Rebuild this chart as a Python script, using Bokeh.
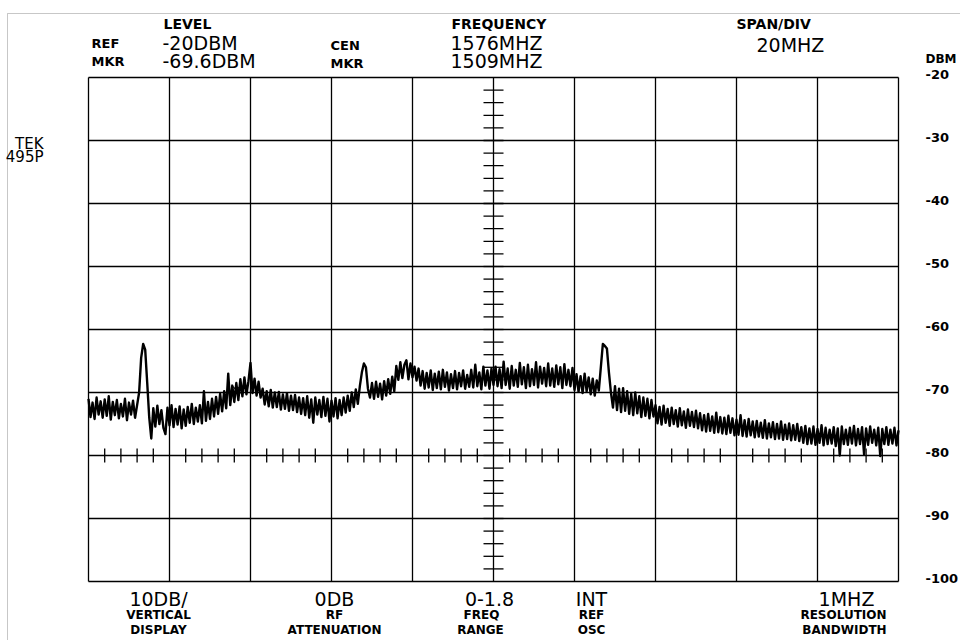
import numpy as np
from bokeh.plotting import figure
from bokeh.models import Label, Range1d, BoxAnnotation
from bokeh.core.properties import value
from bokeh.embed import file_html
from bokeh.resources import INLINE

# ---------------- data ----------------
start_mhz = 1476
stop_mhz = 1676
center_mhz = 1576
ref_dbm = -20
bottom_dbm = -100
major_freqs = [1476, 1496, 1516, 1536, 1556, 1576, 1596, 1616, 1636, 1656, 1676]
dbm_ticks = [-20, -30, -40, -50, -60, -70, -80, -90, -100]
dbm_tick_labels = ["-20", "-30", "-40", "-50", "-60", "-70", "-80", "-90", "-100"]
minor_freq_ticks = [f for f in range(1480, 1676, 4) if (f - 1476) % 20 != 0]
minor_db_ticks = [d for d in range(-98, -20, 2)]
minor_freq_line_db = -80

seg = []
seg += [-71.0, -73.9, -71.6, -74.2, -70.8, -73.5, -71.4, -74.0, -71.1, -73.7, -70.6, -74.3, -71.5,
        -73.6, -71.2, -74.1, -71.8, -73.8, -71.0, -74.4, -71.6, -73.5, -71.3, -74.0, -72.0]
seg += [-70.0, -64.5, -62.3, -63.2, -68.5]
seg += [-74.0, -77.3, -72.5, -75.4, -72.1, -75.0, -72.8, -75.6, -76.6, -72.4, -75.2, -72.0, -75.5,
        -72.6, -75.1, -72.2, -75.7, -72.7, -75.3, -72.3, -74.8, -71.8, -75.0, -72.4, -74.6]
seg += [-72.0, -74.9, -69.8, -74.5, -71.5, -74.2, -71.0, -73.8, -70.7, -73.4, -70.2, -73.0, -69.8,
        -72.5, -67.0, -72.0, -68.9, -71.5, -68.5, -71.2]
seg += [-67.9, -70.6, -67.6, -70.3, -68.2, -65.3, -70.1, -67.8, -70.5, -68.3, -70.8]
seg += [-69.4, -71.9, -69.8, -72.2, -69.6, -72.4, -70.0, -72.3, -69.9, -72.7, -70.3, -72.6, -70.1,
        -72.9, -70.5, -72.8, -70.4, -73.1, -70.8]
seg += [-73.4, -70.9, -73.6, -70.6, -74.0, -71.1, -74.8, -70.8, -73.5, -71.2, -73.9, -70.7, -73.7,
        -71.0, -74.6, -71.3, -73.8, -70.9, -74.1, -71.2, -73.6, -70.8, -73.2]
seg += [-70.5, -72.9, -70.0, -72.3, -69.5, -71.8, -69.0]
seg += [-66.8, -65.4, -66.0, -69.4]
seg += [-70.8, -68.5, -71.0, -68.3, -70.7, -68.6, -71.1, -68.2, -70.5, -67.9, -70.2, -67.5, -69.8]
seg += [-65.8, -68.0, -65.2, -67.7, -65.6, -64.9, -67.9, -65.4, -67.6, -65.9, -68.1, -66.2]
seg += [-68.9, -66.6, -69.4, -66.9, -69.2, -66.5, -69.6, -67.0, -69.3, -66.7, -69.5, -66.4, -69.1,
        -66.8, -69.7, -67.1, -69.3, -66.6, -69.5, -66.9, -69.0, -66.5, -69.4, -67.2, -69.1]
seg += [-66.4, -69.2, -65.6, -69.0, -66.8, -69.5, -65.9, -68.9, -66.5, -69.4, -66.2, -68.8]
seg += [-65.9, -69.0, -66.3, -69.3, -65.1, -68.8, -66.2, -69.4, -65.8, -68.9, -66.4, -69.1, -65.3,
        -68.7, -66.0, -69.3, -65.6, -69.0, -66.3, -68.8, -65.2, -69.2, -65.9, -68.6, -66.1, -69.0,
        -65.4, -68.9, -66.2, -69.1, -65.7, -68.7, -66.0, -69.3, -65.5, -68.8, -66.4, -69.0, -66.1]
seg += [-69.6, -67.1, -69.9, -67.4, -70.1, -67.0, -69.8, -67.6, -70.3, -67.8, -70.5, -68.1, -69.7]
seg += [-66.0, -62.3, -62.6, -63.0, -66.8, -70.0]
seg += [-72.4, -69.0, -72.8, -69.4, -73.1, -69.3, -72.9, -69.8, -73.4, -70.2, -73.6, -70.0, -73.3,
        -70.6, -73.9, -70.8, -73.7, -71.0, -74.1, -71.2, -73.8]
seg += [-72.0, -74.9, -72.3, -75.1, -72.1, -74.8, -72.6, -75.3, -72.4, -75.0, -72.8, -75.4, -72.5,
        -75.2, -73.0, -75.6, -72.7, -75.3, -73.1, -75.5, -72.9, -75.7]
seg += [-73.3, -76.0, -73.6, -76.2, -73.4, -76.1, -73.8, -76.4, -73.2, -76.3, -73.9, -76.5, -74.0,
        -76.6, -73.7, -76.4, -74.1, -76.8, -74.3, -76.7, -73.6, -76.9, -74.4, -77.0, -74.2, -76.8,
        -74.6, -77.1, -74.5, -77.0, -74.8, -77.2, -74.4, -77.3, -74.9, -77.1, -74.7, -77.4, -75.0,
        -77.3, -74.6, -77.5, -75.1, -77.4, -74.9, -77.6, -75.2, -77.5, -75.0, -77.7]
seg += [-75.5, -78.0, -75.3, -78.2, -75.7, -78.1, -75.4, -78.3, -75.8, -78.0, -75.2, -78.4, -75.6,
        -78.2, -75.9, -78.1, -75.5, -78.5, -75.7, -80.0, -75.4, -78.2, -75.9, -78.3, -75.6, -78.1,
        -75.3, -78.4, -75.8, -78.2, -75.5, -79.8, -75.7, -78.3, -75.4, -78.0, -75.9, -78.4, -75.6,
        -80.1, -75.8, -78.2, -75.5, -78.3, -75.9, -78.1, -75.6, -78.4, -76.0]
trace_dbm = seg
trace_mhz = np.linspace(start_mhz, stop_mhz, len(trace_dbm))

marker_mhz = 1512.5
marker_dbm = -69.6

# ---------------- layout ----------------
FONT = "DejaVu Sans"
W, H = 960, 640
GL, GR, GT, GB = 88, 898, 77, 581   # graticule edges in page pixels


def X(px):  # page pixel -> data x
    return start_mhz + (px - GL) / (GR - GL) * (stop_mhz - start_mhz)


def Y(py):  # page pixel -> data y
    return ref_dbm - (py - GT) / (GB - GT) * (ref_dbm - bottom_dbm)


p = figure(width=W, height=H, x_range=Range1d(X(0), X(W)), y_range=Range1d(Y(H), Y(0)),
           output_backend="svg", toolbar_location=None, x_axis_location=None,
           y_axis_location=None, min_border=0)
p.background_fill_color = "white"
p.border_fill_color = "white"
p.outline_line_color = None
p.xgrid.visible = False
p.ygrid.visible = False

# graticule
p.segment(x0=major_freqs, y0=[bottom_dbm] * len(major_freqs), x1=major_freqs,
          y1=[ref_dbm] * len(major_freqs), line_color="black", line_width=1.3)
p.segment(x0=[start_mhz] * len(dbm_ticks), y0=dbm_ticks, x1=[stop_mhz] * len(dbm_ticks),
          y1=dbm_ticks, line_color="black", line_width=1.3)
p.scatter(x=[center_mhz] * len(minor_db_ticks), y=minor_db_ticks, marker="dash", size=20,
          line_color="black", line_width=1.3)
p.scatter(x=minor_freq_ticks, y=[minor_freq_line_db] * len(minor_freq_ticks), marker="dash",
          angle=np.pi / 2, size=14, line_color="black", line_width=1.3)

# trace
p.line(trace_mhz, trace_dbm, line_color="black", line_width=2.4, line_join="round")
p.scatter([marker_mhz], [marker_dbm], marker="x", size=11, line_color="black", line_width=1.2)

# outer paper frame
p.add_layout(BoxAnnotation(left=X(7), right=X(W + 50), top=Y(13), bottom=Y(H + 50),
                           fill_alpha=0, line_color="#444444", line_width=1))

# right-hand dB labels (slightly above their lines)
p.text(x=[X(925)] * len(dbm_ticks), y=[d + 0.45 for d in dbm_ticks], text=dbm_tick_labels,
       text_font=value(FONT), text_font_size="13px", text_font_style="bold",
       text_align="left", text_baseline="middle", text_color="black")


def lbl(text, px, py, size, bold=False, align="left"):
    p.add_layout(Label(x=X(px), y=Y(py), text=text, text_font=FONT, text_font_size=f"{size}px",
                       text_font_style="bold" if bold else "normal", text_align=align,
                       text_baseline="middle", text_color="black"))


# header
lbl("LEVEL", 163, 23, 14, True)
lbl("FREQUENCY", 451, 23, 14, True)
lbl("SPAN/DIV", 736, 23, 14, True)
lbl("REF", 91, 43, 13, True)
lbl("-20DBM", 162, 42, 19)
lbl("CEN", 330, 45, 13, True)
lbl("1576MHZ", 450, 42, 19)
lbl("20MHZ", 756, 44, 19)
lbl("MKR", 91, 61, 13, True)
lbl("-69.6DBM", 162, 60, 19)
lbl("MKR", 330, 63, 13, True)
lbl("1509MHZ", 450, 60, 19)
lbl("DBM", 925, 58, 12, True)
lbl("TEK", 43, 143, 15, align="right")
lbl("495P", 43, 156, 15, align="right")

# footer
lbl("10DB/", 158, 598, 19, align="center")
lbl("VERTICAL", 158, 614, 12, True, "center")
lbl("DISPLAY", 158, 629, 12, True, "center")
lbl("0DB", 334, 598, 19, align="center")
lbl("RF", 334, 614, 12, True, "center")
lbl("ATTENUATION", 334, 629, 12, True, "center")
lbl("0-1.8", 489, 598, 19, align="center")
lbl("FREQ", 481, 614, 12, True, "center")
lbl("RANGE", 480, 629, 12, True, "center")
lbl("INT", 591, 598, 19, align="center")
lbl("REF", 591, 614, 12, True, "center")
lbl("OSC", 591, 629, 12, True, "center")
lbl("1MHZ", 846, 598, 19, align="center")
lbl("RESOLUTION", 843, 614, 12, True, "center")
lbl("BANDWIDTH", 844, 629, 12, True, "center")

open("out.html", "w").write(file_html(p, INLINE))
